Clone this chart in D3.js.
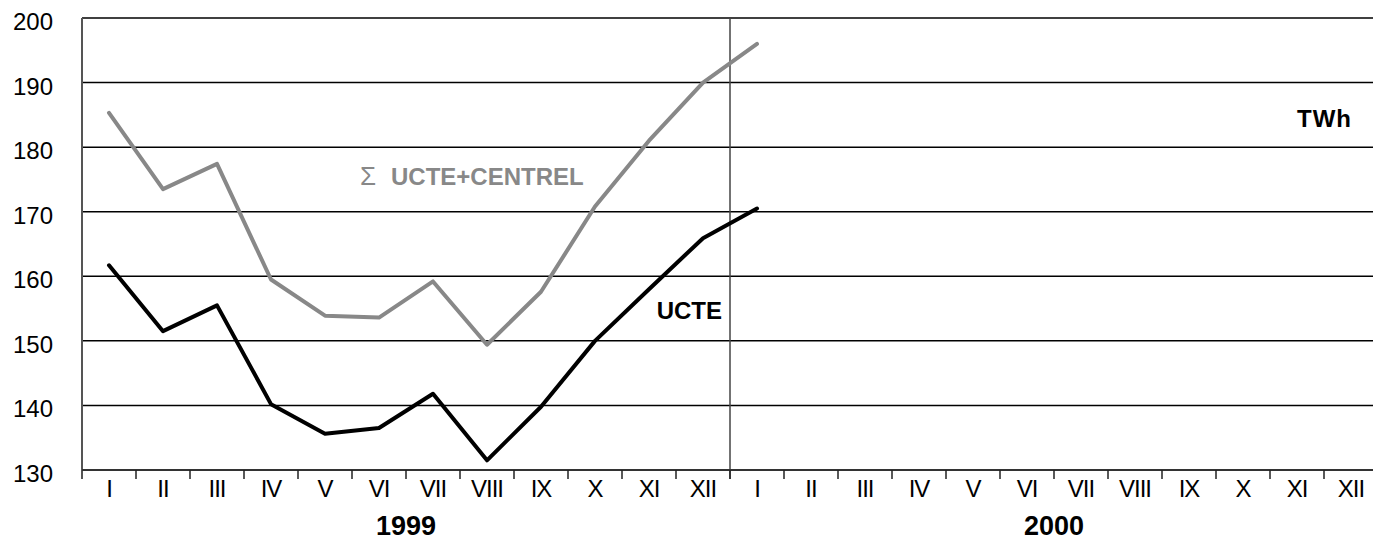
<!DOCTYPE html>
<meta charset="utf-8">
<style>
  body { margin: 0; background: #fff; }
  text { font-family: "Liberation Sans", Arial, sans-serif; }
</style>
<svg width="1373" height="541"></svg>
<script src="https://d3js.org/d3.v7.min.js"></script>
<script>

var months = ["I", "II", "III", "IV", "V", "VI", "VII", "VIII", "IX", "X", "XI", "XII"];
var years = ["1999", "2000"];
var yTicks = [130, 140, 150, 160, 170, 180, 190, 200];

// monthly values, Jan 1999 .. Jan 2000
var ucte = [161.7, 151.5, 155.5, 140.2, 135.6, 136.5, 141.8, 131.5, 139.8, 150.0, 158.0, 165.9, 170.5];
var ucteCentrel = [185.3, 173.5, 177.4, 159.5, 153.9, 153.6, 159.2, 149.4, 157.6, 170.8, 181.0, 190.0, 196.0];

var slots = [];
years.forEach(function(y) {
  months.forEach(function(m) { slots.push(y + "-" + m); });
});

var svg = d3.select("svg");

var x = d3.scaleBand().domain(slots).range([82, 1378]).paddingInner(0).paddingOuter(0);
var y = d3.scaleLinear().domain([130, 200]).range([470, 18]);

// gridlines
svg.append("g")
  .selectAll("line")
  .data(yTicks.slice(1))
  .enter().append("line")
    .attr("x1", 82).attr("x2", 1378)
    .attr("y1", function(d) { return y(d); })
    .attr("y2", function(d) { return y(d); })
    .attr("stroke", "#000")
    .attr("stroke-width", 1.5);

// y labels
svg.append("g")
  .selectAll("text")
  .data(yTicks)
  .enter().append("text")
    .attr("x", 53)
    .attr("y", function(d) { return y(d) + 12; })
    .attr("text-anchor", "end")
    .attr("font-size", 24)
    .text(function(d) { return d; });

// year separator
svg.append("line")
  .attr("x1", x(years[1] + "-I")).attr("x2", x(years[1] + "-I"))
  .attr("y1", y(200)).attr("y2", y(130) + 9)
  .attr("stroke", "#444").attr("stroke-width", 1.5);

// left axis
svg.append("line")
  .attr("x1", 82).attr("x2", 82)
  .attr("y1", y(200)).attr("y2", y(130) + 9)
  .attr("stroke", "#555").attr("stroke-width", 2);

// bottom axis + ticks
svg.append("line")
  .attr("x1", 82).attr("x2", 1378)
  .attr("y1", y(130)).attr("y2", y(130))
  .attr("stroke", "#333").attr("stroke-width", 2);

svg.append("g")
  .selectAll("line")
  .data(slots)
  .enter().append("line")
    .attr("x1", function(d) { return x(d) + x.bandwidth(); })
    .attr("x2", function(d) { return x(d) + x.bandwidth(); })
    .attr("y1", y(130)).attr("y2", y(130) + 9)
    .attr("stroke", "#222").attr("stroke-width", 1.5);

svg.append("g")
  .selectAll("text")
  .data(slots)
  .enter().append("text")
    .attr("x", function(d) { return x(d) + x.bandwidth() / 2; })
    .attr("y", 497)
    .attr("text-anchor", "middle")
    .attr("font-size", 24)
    .attr("letter-spacing", -1)
    .text(function(d) { return d.split("-")[1]; });

svg.append("g")
  .selectAll("text")
  .data(years)
  .enter().append("text")
    .attr("x", function(d) { return x(d + "-I") + x.bandwidth() * 6; })
    .attr("y", 535)
    .attr("text-anchor", "middle")
    .attr("font-size", 27)
    .attr("font-weight", "bold")
    .text(function(d) { return d; });

// lines
var line = d3.line()
  .x(function(d, i) { return x(slots[i]) + x.bandwidth() / 2; })
  .y(function(d) { return y(d); });

svg.append("path")
  .datum(ucteCentrel)
  .attr("d", line)
  .attr("fill", "none")
  .attr("stroke", "#888")
  .attr("stroke-width", 4)
  .attr("stroke-linejoin", "round")
  .attr("stroke-linecap", "round");

svg.append("path")
  .datum(ucte)
  .attr("d", line)
  .attr("fill", "none")
  .attr("stroke", "#000")
  .attr("stroke-width", 4)
  .attr("stroke-linejoin", "round")
  .attr("stroke-linecap", "round");

// labels
var sumLabel = svg.append("text")
  .attr("x", 360).attr("y", 185)
  .attr("font-size", 24)
  .attr("fill", "#888");
sumLabel.append("tspan").attr("font-size", 26).text("\u03a3");
sumLabel.append("tspan").attr("x", 391).attr("font-weight", "bold").text("UCTE+CENTREL");

svg.append("text")
  .attr("x", 722).attr("y", 319)
  .attr("text-anchor", "end")
  .attr("font-size", 24)
  .attr("font-weight", "bold")
  .text("UCTE");

svg.append("text")
  .attr("x", 1297).attr("y", 127)
  .attr("font-size", 24)
  .attr("font-weight", "bold")
  .attr("letter-spacing", 1)
  .text("TWh");

</script>
